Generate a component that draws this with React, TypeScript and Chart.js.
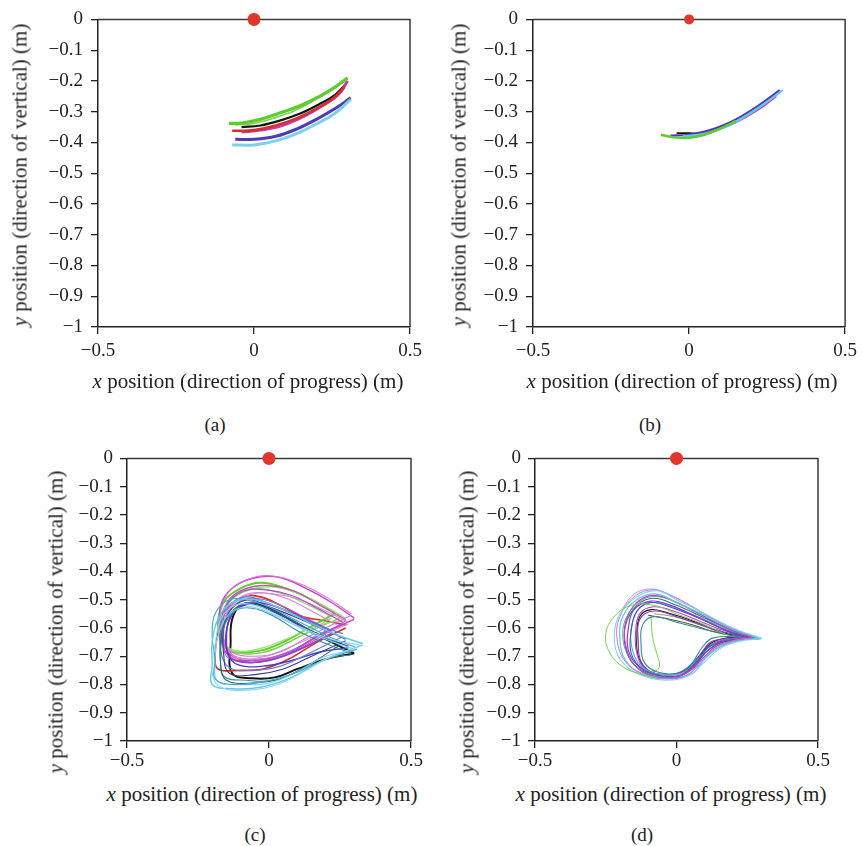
import React, { useEffect, useRef } from "react";
import { Chart, registerables } from "chart.js";

Chart.register(...registerables);

type Pt = [number, number];

// ---- tick values ----
const xTickValues = [-0.5, 0, 0.5];
const yTickValues = [0, -0.1, -0.2, -0.3, -0.4, -0.5, -0.6, -0.7, -0.8, -0.9, -1];

// ---- axis texts ----
const xTitleVar = "x";
const xTitleRest = " position (direction of progress) (m)";
const yTitleVar = "y";
const yTitleRest = " position (direction of vertical) (m)";
const panelLabels = ["(a)", "(b)", "(c)", "(d)"];

// ---- starting point (red dot) ----
const origin: Pt[] = [[0, 0]];

// ---- panel (a) trajectories ----
const aGreen: Pt[] = [[-0.08, -0.338], [-0.04, -0.337], [0.02, -0.325], [0.08, -0.305], [0.15, -0.28], [0.21, -0.25], [0.26, -0.22], [0.3, -0.19]];
const aGreen2: Pt[] = [[-0.06, -0.343], [0.0, -0.338], [0.06, -0.322], [0.13, -0.297], [0.19, -0.265], [0.25, -0.228], [0.29, -0.2]];
const aBlack: Pt[] = [[-0.04, -0.35], [0.02, -0.345], [0.08, -0.33], [0.15, -0.305], [0.21, -0.275], [0.26, -0.245], [0.29, -0.215]];
const aRed: Pt[] = [[-0.07, -0.362], [0.0, -0.36], [0.07, -0.345], [0.14, -0.32], [0.2, -0.29], [0.25, -0.26], [0.29, -0.22]];
const aMagenta: Pt[] = [[-0.04, -0.366], [0.02, -0.36], [0.09, -0.345], [0.16, -0.315], [0.22, -0.28], [0.27, -0.245], [0.3, -0.2]];
const aBlue: Pt[] = [[-0.06, -0.39], [0.0, -0.39], [0.07, -0.38], [0.14, -0.355], [0.2, -0.325], [0.26, -0.29], [0.31, -0.255]];
const aCyan: Pt[] = [[-0.07, -0.408], [0.0, -0.408], [0.07, -0.395], [0.14, -0.37], [0.2, -0.34], [0.26, -0.305], [0.31, -0.26]];

// ---- panel (b) trajectories ----
const bGreen: Pt[] = [[-0.09, -0.375], [-0.05, -0.383], [0.0, -0.385], [0.05, -0.375], [0.1, -0.355], [0.15, -0.33]];
const bCyan: Pt[] = [[-0.02, -0.38], [0.05, -0.372], [0.12, -0.348], [0.18, -0.315], [0.24, -0.275], [0.3, -0.23]];
const bMagenta: Pt[] = [[0.0, -0.38], [0.08, -0.362], [0.15, -0.335], [0.22, -0.295], [0.28, -0.25]];
const bBlue: Pt[] = [[-0.06, -0.378], [0.0, -0.375], [0.05, -0.365], [0.1, -0.348], [0.15, -0.325], [0.2, -0.295], [0.25, -0.26], [0.29, -0.23]];
const bBlack: Pt[] = [[-0.04, -0.37], [0.0, -0.37], [0.05, -0.372]];

// ---- panel (c) trajectories ----
const cMagenta1: Pt[] = [[0.3, -0.565], [0.22, -0.51], [0.13, -0.46], [0.03, -0.42], [-0.06, -0.425], [-0.13, -0.46], [-0.17, -0.52], [-0.17, -0.6], [-0.15, -0.67], [-0.11, -0.705], [-0.02, -0.71], [0.07, -0.685], [0.17, -0.63], [0.3, -0.57]];
const cPink1: Pt[] = [[0.29, -0.55], [0.2, -0.49], [0.1, -0.44], [0.0, -0.415], [-0.08, -0.43], [-0.14, -0.47], [-0.17, -0.54], [-0.17, -0.62], [-0.14, -0.68], [-0.06, -0.7], [0.04, -0.685], [0.14, -0.63], [0.29, -0.555]];
const cGreen1: Pt[] = [[0.23, -0.545], [0.15, -0.5], [0.06, -0.46], [-0.03, -0.44], [-0.1, -0.46], [-0.16, -0.51], [-0.18, -0.59], [-0.16, -0.66], [-0.12, -0.685], [-0.03, -0.68], [0.05, -0.65], [0.14, -0.6], [0.23, -0.55]];
const cGreen2: Pt[] = [[0.25, -0.56], [0.17, -0.51], [0.08, -0.47], [-0.01, -0.45], [-0.09, -0.465], [-0.15, -0.52], [-0.165, -0.6], [-0.15, -0.665], [-0.1, -0.69], [-0.01, -0.685], [0.08, -0.645], [0.17, -0.6], [0.25, -0.565]];
const cGreen3: Pt[] = [[0.27, -0.565], [0.19, -0.52], [0.1, -0.475], [0.01, -0.455], [-0.07, -0.465], [-0.14, -0.51], [-0.17, -0.58], [-0.16, -0.65], [-0.12, -0.68], [-0.04, -0.675], [0.06, -0.64], [0.16, -0.595], [0.27, -0.57]];
const cGreen4: Pt[] = [[0.22, -0.56], [0.14, -0.52], [0.05, -0.48], [-0.04, -0.46], [-0.11, -0.475], [-0.16, -0.53], [-0.17, -0.61], [-0.15, -0.67], [-0.11, -0.69], [-0.02, -0.685], [0.07, -0.65], [0.22, -0.565]];
const cMagenta2: Pt[] = [[0.27, -0.57], [0.18, -0.52], [0.09, -0.47], [0.0, -0.45], [-0.08, -0.46], [-0.14, -0.5], [-0.16, -0.57], [-0.16, -0.64], [-0.13, -0.7], [-0.05, -0.715], [0.05, -0.7], [0.15, -0.65], [0.27, -0.575]];
const cRose: Pt[] = [[0.28, -0.58], [0.2, -0.54], [0.11, -0.5], [0.02, -0.48], [-0.06, -0.48], [-0.13, -0.52], [-0.16, -0.6], [-0.15, -0.67], [-0.11, -0.705], [-0.02, -0.71], [0.08, -0.68], [0.18, -0.63], [0.28, -0.585]];
const cRed: Pt[] = [[0.27, -0.59], [0.2, -0.575], [0.12, -0.56], [0.04, -0.52], [-0.03, -0.49], [-0.09, -0.49], [-0.15, -0.54], [-0.18, -0.62], [-0.19, -0.7], [-0.18, -0.745], [-0.1, -0.75], [-0.02, -0.745], [0.07, -0.71], [0.17, -0.65], [0.27, -0.6]];
const cViolet: Pt[] = [[0.26, -0.58], [0.17, -0.53], [0.08, -0.485], [-0.01, -0.465], [-0.09, -0.47], [-0.15, -0.52], [-0.17, -0.6], [-0.16, -0.67], [-0.12, -0.715], [-0.03, -0.72], [0.07, -0.69], [0.17, -0.63], [0.26, -0.585]];
const cPurple: Pt[] = [[0.22, -0.61], [0.13, -0.57], [0.04, -0.53], [-0.04, -0.51], [-0.1, -0.52], [-0.14, -0.57], [-0.15, -0.64], [-0.14, -0.7], [-0.09, -0.72], [0.0, -0.715], [0.1, -0.68], [0.22, -0.62]];
const cPink2: Pt[] = [[0.24, -0.59], [0.15, -0.54], [0.06, -0.495], [-0.03, -0.475], [-0.1, -0.49], [-0.15, -0.55], [-0.16, -0.63], [-0.15, -0.69], [-0.1, -0.71], [-0.01, -0.7], [0.09, -0.66], [0.24, -0.595]];
const cMauve: Pt[] = [[0.2, -0.6], [0.12, -0.56], [0.03, -0.515], [-0.05, -0.495], [-0.11, -0.51], [-0.15, -0.56], [-0.16, -0.64], [-0.15, -0.7], [-0.1, -0.715], [-0.01, -0.71], [0.09, -0.675], [0.2, -0.61]];
const cBlack: Pt[] = [[0.3, -0.69], [0.21, -0.645], [0.12, -0.6], [0.04, -0.55], [-0.04, -0.515], [-0.1, -0.52], [-0.13, -0.57], [-0.135, -0.65], [-0.13, -0.76], [-0.06, -0.778], [0.02, -0.775], [0.1, -0.745], [0.2, -0.71], [0.3, -0.69]];
const cBlue: Pt[] = [[0.28, -0.665], [0.19, -0.63], [0.1, -0.585], [0.01, -0.54], [-0.06, -0.515], [-0.12, -0.54], [-0.15, -0.61], [-0.145, -0.69], [-0.11, -0.73], [-0.02, -0.735], [0.08, -0.715], [0.18, -0.685], [0.28, -0.67]];
const cCyan1: Pt[] = [[0.33, -0.655], [0.24, -0.625], [0.14, -0.58], [0.04, -0.53], [-0.05, -0.5], [-0.13, -0.51], [-0.18, -0.57], [-0.2, -0.65], [-0.2, -0.73], [-0.2, -0.8], [-0.13, -0.815], [-0.03, -0.81], [0.08, -0.775], [0.18, -0.72], [0.33, -0.66]];
const cCyan2: Pt[] = [[0.3, -0.675], [0.2, -0.64], [0.1, -0.595], [0.01, -0.55], [-0.07, -0.525], [-0.14, -0.55], [-0.18, -0.63], [-0.19, -0.72], [-0.18, -0.79], [-0.1, -0.8], [0.0, -0.795], [0.1, -0.755], [0.2, -0.7], [0.3, -0.68]];
const cTeal1: Pt[] = [[0.25, -0.655], [0.16, -0.615], [0.07, -0.565], [-0.02, -0.525], [-0.09, -0.515], [-0.145, -0.56], [-0.17, -0.64], [-0.17, -0.73], [-0.15, -0.785], [-0.06, -0.795], [0.04, -0.78], [0.14, -0.73], [0.25, -0.66]];
const cNavy: Pt[] = [[0.27, -0.64], [0.18, -0.6], [0.09, -0.56], [0.0, -0.525], [-0.07, -0.5], [-0.13, -0.53], [-0.16, -0.6], [-0.16, -0.69], [-0.14, -0.76], [-0.05, -0.765], [0.05, -0.745], [0.15, -0.7], [0.27, -0.645]];
const cCyan3: Pt[] = [[0.32, -0.66], [0.22, -0.64], [0.12, -0.6], [0.03, -0.555], [-0.05, -0.52], [-0.12, -0.52], [-0.17, -0.57], [-0.19, -0.66], [-0.2, -0.76], [-0.17, -0.81], [-0.07, -0.82], [0.03, -0.8], [0.13, -0.75], [0.22, -0.7], [0.32, -0.665]];
const cTeal2: Pt[] = [[0.29, -0.69], [0.2, -0.655], [0.1, -0.61], [0.02, -0.56], [-0.06, -0.53], [-0.12, -0.54], [-0.16, -0.6], [-0.17, -0.7], [-0.16, -0.77], [-0.08, -0.785], [0.02, -0.785], [0.12, -0.745], [0.22, -0.705], [0.29, -0.695]];
const cSlate: Pt[] = [[0.26, -0.62], [0.17, -0.59], [0.08, -0.55], [-0.01, -0.51], [-0.08, -0.49], [-0.14, -0.52], [-0.17, -0.59], [-0.17, -0.68], [-0.14, -0.74], [-0.06, -0.75], [0.04, -0.735], [0.14, -0.69], [0.26, -0.63]];
const cSea: Pt[] = [[0.31, -0.67], [0.22, -0.635], [0.12, -0.585], [0.02, -0.535], [-0.06, -0.505], [-0.14, -0.5], [-0.19, -0.55], [-0.2, -0.63], [-0.19, -0.71], [-0.19, -0.78], [-0.12, -0.8], [-0.02, -0.79], [0.09, -0.76], [0.2, -0.71], [0.31, -0.675]];

// ---- panel (d) trajectories ----
const dSky: Pt[] = [[0.3, -0.636], [0.21, -0.605], [0.1, -0.55], [0.0, -0.5], [-0.07, -0.468], [-0.14, -0.49], [-0.2, -0.55], [-0.22, -0.63], [-0.2, -0.71], [-0.13, -0.765], [-0.04, -0.785], [0.04, -0.77], [0.1, -0.72], [0.15, -0.675], [0.22, -0.648], [0.3, -0.638]];
const dPink: Pt[] = [[0.27, -0.63], [0.18, -0.595], [0.08, -0.54], [-0.01, -0.49], [-0.08, -0.465], [-0.15, -0.49], [-0.2, -0.56], [-0.21, -0.64], [-0.18, -0.72], [-0.11, -0.765], [-0.03, -0.78], [0.04, -0.765], [0.09, -0.715], [0.14, -0.67], [0.2, -0.645], [0.27, -0.635]];
const dCyan1: Pt[] = [[0.29, -0.635], [0.2, -0.605], [0.1, -0.555], [0.0, -0.51], [-0.07, -0.48], [-0.14, -0.5], [-0.19, -0.56], [-0.2, -0.64], [-0.18, -0.715], [-0.12, -0.765], [-0.03, -0.78], [0.05, -0.765], [0.1, -0.71], [0.15, -0.67], [0.22, -0.645], [0.29, -0.637]];
const dMagenta1: Pt[] = [[0.27, -0.63], [0.18, -0.6], [0.08, -0.55], [-0.01, -0.505], [-0.08, -0.485], [-0.14, -0.51], [-0.18, -0.58], [-0.18, -0.66], [-0.15, -0.73], [-0.09, -0.77], [-0.01, -0.775], [0.05, -0.75], [0.1, -0.7], [0.15, -0.66], [0.27, -0.632]];
const dTeal1: Pt[] = [[0.29, -0.64], [0.2, -0.61], [0.1, -0.565], [0.0, -0.52], [-0.08, -0.495], [-0.14, -0.52], [-0.18, -0.59], [-0.18, -0.67], [-0.15, -0.73], [-0.08, -0.77], [0.0, -0.775], [0.06, -0.74], [0.1, -0.69], [0.15, -0.655], [0.22, -0.642], [0.29, -0.64]];
const dPurple1: Pt[] = [[0.26, -0.635], [0.17, -0.605], [0.07, -0.56], [-0.02, -0.52], [-0.09, -0.505], [-0.15, -0.535], [-0.17, -0.6], [-0.17, -0.68], [-0.13, -0.74], [-0.06, -0.77], [0.01, -0.77], [0.06, -0.735], [0.11, -0.68], [0.16, -0.65], [0.26, -0.636]];
const dBlue: Pt[] = [[0.28, -0.64], [0.19, -0.615], [0.09, -0.57], [-0.01, -0.53], [-0.09, -0.51], [-0.14, -0.54], [-0.16, -0.61], [-0.16, -0.69], [-0.12, -0.745], [-0.05, -0.77], [0.02, -0.765], [0.07, -0.72], [0.11, -0.67], [0.17, -0.645], [0.28, -0.64]];
const dCyan2: Pt[] = [[0.3, -0.637], [0.21, -0.615], [0.11, -0.575], [0.01, -0.535], [-0.07, -0.51], [-0.13, -0.53], [-0.16, -0.6], [-0.155, -0.68], [-0.12, -0.74], [-0.05, -0.765], [0.02, -0.76], [0.07, -0.715], [0.12, -0.665], [0.19, -0.642], [0.3, -0.638]];
const dBlack: Pt[] = [[0.24, -0.633], [0.16, -0.615], [0.07, -0.58], [-0.02, -0.55], [-0.09, -0.535], [-0.13, -0.56], [-0.14, -0.63], [-0.135, -0.7], [-0.1, -0.75], [-0.03, -0.765], [0.03, -0.75], [0.08, -0.7], [0.12, -0.655], [0.18, -0.635], [0.24, -0.633]];
const dMagenta2: Pt[] = [[0.26, -0.633], [0.17, -0.61], [0.08, -0.575], [-0.01, -0.54], [-0.08, -0.525], [-0.13, -0.55], [-0.145, -0.62], [-0.14, -0.69], [-0.11, -0.745], [-0.04, -0.765], [0.03, -0.755], [0.08, -0.71], [0.12, -0.66], [0.18, -0.64], [0.26, -0.634]];
const dTeal2: Pt[] = [[0.25, -0.632], [0.17, -0.622], [0.11, -0.608], [0.0, -0.58], [-0.08, -0.56], [-0.12, -0.59], [-0.125, -0.66], [-0.115, -0.72], [-0.07, -0.755], [0.0, -0.76], [0.05, -0.73], [0.09, -0.67], [0.13, -0.635], [0.25, -0.633]];
const dPurple2: Pt[] = [[0.27, -0.636], [0.18, -0.617], [0.09, -0.59], [0.0, -0.56], [-0.08, -0.54], [-0.13, -0.57], [-0.135, -0.65], [-0.125, -0.72], [-0.08, -0.76], [-0.01, -0.765], [0.05, -0.74], [0.09, -0.685], [0.13, -0.645], [0.27, -0.637]];
const dGray: Pt[] = [[0.28, -0.636], [0.2, -0.61], [0.1, -0.56], [0.01, -0.515], [-0.06, -0.49], [-0.12, -0.5], [-0.17, -0.55], [-0.19, -0.62], [-0.17, -0.7], [-0.12, -0.755], [-0.04, -0.775], [0.03, -0.77], [0.08, -0.73], [0.13, -0.68], [0.2, -0.648], [0.28, -0.637]];
const dLilac: Pt[] = [[0.25, -0.625], [0.15, -0.58], [0.05, -0.52], [-0.03, -0.48], [-0.09, -0.462], [-0.15, -0.48], [-0.19, -0.53]];
const dGreenOuter: Pt[] = [[0.18, -0.625], [0.09, -0.585], [0.0, -0.55], [-0.08, -0.52], [-0.16, -0.52], [-0.22, -0.56], [-0.25, -0.62], [-0.24, -0.68], [-0.2, -0.73], [-0.14, -0.76], [-0.07, -0.775]];
const dGreenInner: Pt[] = [[-0.09, -0.56], [-0.085, -0.63], [-0.07, -0.69], [-0.06, -0.735], [-0.08, -0.755], [-0.12, -0.75]];
const dChord: Pt[] = [[-0.1, -0.555], [-0.02, -0.57], [0.06, -0.59], [0.12, -0.61], [0.2, -0.628]];
const dBrown: Pt[] = [[0.15, -0.615], [0.07, -0.585], [-0.01, -0.56], [-0.08, -0.55]];

const FONT = "'Liberation Serif', 'Times New Roman', serif";
const AXIS = "#222";

interface Series { pts: Pt[]; color: string; width: number }
interface PanelSpec {
  left: number; top: number; width: number; height: number;
  padTop: number; padRight: number; yAxisW: number; xAxisH: number;
  xTickPad: number; yTickPad: number; dotR: number; series: Series[];
  label: string; labelX: number; labelY: number;
  xTitleX: number; xTitleY: number; yTitleX: number; yTitleY: number;
}

const fmt = (v: number) => {
  if (Math.abs(v) < 1e-9) return "0";
  const s = String(Math.round(Math.abs(v) * 10) / 10);
  return (v < 0 ? "\u2212" : "") + s;
};

const boxPlugin = {
  id: "box",
  beforeDatasetsDraw(chart: any) {
    const { ctx, chartArea } = chart;
    const { left, top, right, bottom } = chartArea;
    ctx.save();
    ctx.strokeStyle = "#3a3a3a";
    ctx.lineWidth = 1.5;
    ctx.beginPath();
    ctx.moveTo(left, top);
    ctx.lineTo(right, top);
    ctx.lineTo(right, bottom);
    ctx.stroke();
    ctx.restore();
  },
};

const S = (pts: Pt[], color: string, width: number): Series => ({ pts, color, width });

const panels: PanelSpec[] = [
  {
    left: 0, top: 0, width: 430, height: 370, padTop: 16, padRight: 20, yAxisW: 98, xAxisH: 43,
    xTickPad: 6, yTickPad: 8, dotR: 6.5, label: panelLabels[0], labelX: 215, labelY: 424,
    xTitleX: 248, xTitleY: 381, yTitleX: 20, yTitleY: 175,
    series: [
      S(aCyan, "#7fd0ea", 3), S(aBlue, "#4b3db8", 3), S(aGreen, "#5ecb2f", 3.2), S(aGreen2, "#7ad84e", 1.6),
      S(aRed, "#d5302a", 2.6), S(aMagenta, "#c43cae", 3), S(aBlack, "#151515", 2.2),
    ],
  },
  {
    left: 432, top: 0, width: 431, height: 370, padTop: 16, padRight: 17, yAxisW: 101, xAxisH: 43,
    xTickPad: 6, yTickPad: 8, dotR: 5, label: panelLabels[1], labelX: 650, labelY: 424,
    xTitleX: 682, xTitleY: 381, yTitleX: 459, yTitleY: 175,
    series: [
      S(bGreen, "#5ecb2f", 2.4), S(bCyan, "#62c6e6", 2.2), S(bMagenta, "#c43cae", 1.6),
      S(bBlue, "#4b3db8", 2.2), S(bBlack, "#151515", 1.8),
    ],
  },
  {
    left: 0, top: 440, width: 430, height: 340, padTop: 18, padRight: 19, yAxisW: 127, xAxisH: 39,
    xTickPad: 2, yTickPad: 7, dotR: 6.5, label: panelLabels[2], labelX: 255, labelY: 834,
    xTitleX: 262, xTitleY: 794, yTitleX: 56, yTitleY: 622,
    series: [
      S(cCyan3, "#8fd8f0", 1.1), S(cCyan1, "#5ec8ea", 1.4), S(cSea, "#4aa8c8", 1.1), S(cCyan2, "#7fd3ee", 1.2),
      S(cTeal1, "#2e6d7a", 1.1), S(cTeal2, "#3a8a98", 1.1), S(cNavy, "#2f3d8c", 1.1), S(cSlate, "#6a7ad8", 1.1),
      S(cBlue, "#4b3cc0", 1.4), S(cPurple, "#9a3ad4", 1.7), S(cMauve, "#a060c0", 1.1), S(cViolet, "#b04ad0", 1.2),
      S(cPink2, "#d888e0", 1.1), S(cRose, "#e088c8", 1.1), S(cPink1, "#e070e0", 1.1), S(cMagenta2, "#c84cc8", 1.2),
      S(cMagenta1, "#c040c8", 1.4), S(cGreen4, "#86d85a", 1.1), S(cGreen3, "#9ade6e", 1.1), S(cGreen2, "#7bd84a", 1.3),
      S(cGreen1, "#62cc33", 1.9), S(cRed, "#d83020", 1.6), S(cBlack, "#111111", 1.9),
    ],
  },
  {
    left: 432, top: 440, width: 431, height: 340, padTop: 18, padRight: 45, yAxisW: 103, xAxisH: 39,
    xTickPad: 2, yTickPad: 7, dotR: 6.5, label: panelLabels[3], labelX: 642, labelY: 834,
    xTitleX: 671, xTitleY: 794, yTitleX: 467, yTitleY: 622,
    series: [
      S(dGreenOuter, "#7acc55", 1), S(dSky, "#84d2f0", 1.1), S(dPink, "#d070d8", 1), S(dCyan1, "#5cc8e8", 1.2),
      S(dGray, "#6a8a90", 0.9), S(dLilac, "#b090e0", 0.9), S(dMagenta1, "#c040c0", 1.2), S(dTeal1, "#2e7080", 1.1),
      S(dPurple1, "#8a3ad0", 1.2), S(dBlue, "#4a4cc8", 1.1), S(dCyan2, "#48b8d8", 1.2), S(dMagenta2, "#b84ab8", 1.1),
      S(dPurple2, "#7a40c0", 1.1), S(dTeal2, "#3a8898", 1.1), S(dBlack, "#1a1a1a", 1.1),
      S(dChord, "#3a4a20", 1), S(dBrown, "#b07040", 0.8), S(dGreenInner, "#70d050", 1),
    ],
  },
];

function Panel({ spec }: { spec: PanelSpec }) {
  const ref = useRef<HTMLCanvasElement>(null);
  useEffect(() => {
    const toXY = (pts: Pt[]) => pts.map(([x, y]) => ({ x, y }));
    const datasets: any[] = [
      {
        data: toXY(origin), showLine: false, pointRadius: spec.dotR, pointBackgroundColor: "#e1372a",
        pointBorderWidth: 0, pointBorderColor: "#e1372a", clip: false,
      },
      ...spec.series.map((s) => ({
        data: toXY(s.pts), showLine: true, pointRadius: 0, borderColor: s.color,
        borderWidth: s.width, tension: 0.4, fill: false,
      })),
    ];
    const tickFont = { family: FONT, size: 19 };
    const chart = new Chart(ref.current as HTMLCanvasElement, {
      type: "scatter",
      data: { datasets },
      options: {
        animation: false,
        responsive: false,
        devicePixelRatio: 1,
        events: [],
        layout: { padding: { left: 0, top: spec.padTop, right: spec.padRight, bottom: 0 } },
        plugins: { legend: { display: false }, tooltip: { enabled: false }, title: { display: false } },
        scales: {
          x: {
            type: "linear", min: -0.5, max: 0.5,
            afterBuildTicks: (s: any) => { s.ticks = xTickValues.map((v) => ({ value: v })); },
            afterFit: (s: any) => { s.height = spec.xAxisH; },
            ticks: { callback: (v: any) => fmt(Number(v)), font: tickFont, color: AXIS, padding: spec.xTickPad, maxRotation: 0, autoSkip: false },
            grid: { drawOnChartArea: false, drawTicks: true, tickLength: 7, color: AXIS, lineWidth: 1.3 },
            border: { display: true, color: AXIS, width: 1.5 },
          },
          y: {
            type: "linear", min: -1, max: 0,
            afterBuildTicks: (s: any) => { s.ticks = [...yTickValues].sort((p, q) => p - q).map((v) => ({ value: v })); },
            afterFit: (s: any) => { s.width = spec.yAxisW; },
            ticks: { callback: (v: any) => fmt(Number(v)), font: tickFont, color: AXIS, padding: spec.yTickPad, autoSkip: false },
            grid: { drawOnChartArea: false, drawTicks: true, tickLength: 7, color: AXIS, lineWidth: 1.3 },
            border: { display: true, color: AXIS, width: 1.5 },
          },
        },
      } as any,
      plugins: [boxPlugin],
    });
    return () => chart.destroy();
  }, [spec]);

  const textStyle: React.CSSProperties = {
    position: "absolute", whiteSpace: "nowrap", fontFamily: FONT, color: "#222", lineHeight: 1,
  };
  return (
    <>
      <canvas
        ref={ref}
        width={spec.width}
        height={spec.height}
        style={{ position: "absolute", left: spec.left, top: spec.top, width: spec.width, height: spec.height }}
      />
      <div style={{ ...textStyle, fontSize: 21, left: spec.xTitleX, top: spec.xTitleY, transform: "translate(-50%, -50%)" }}>
        <i>{xTitleVar}</i>{xTitleRest}
      </div>
      <div style={{ ...textStyle, fontSize: 21, left: spec.yTitleX, top: spec.yTitleY, transform: "translate(-50%, -50%) rotate(-90deg)" }}>
        <i>{yTitleVar}</i>{yTitleRest}
      </div>
      <div style={{ ...textStyle, fontSize: 19, left: spec.labelX, top: spec.labelY, transform: "translate(-50%, -50%)" }}>
        {spec.label}
      </div>
    </>
  );
}

export default function App() {
  return (
    <div style={{ position: "absolute", left: 0, top: 0, width: 863, height: 846, background: "#fff", overflow: "hidden" }}>
      {panels.map((p, i) => (
        <Panel key={i} spec={p} />
      ))}
    </div>
  );
}
